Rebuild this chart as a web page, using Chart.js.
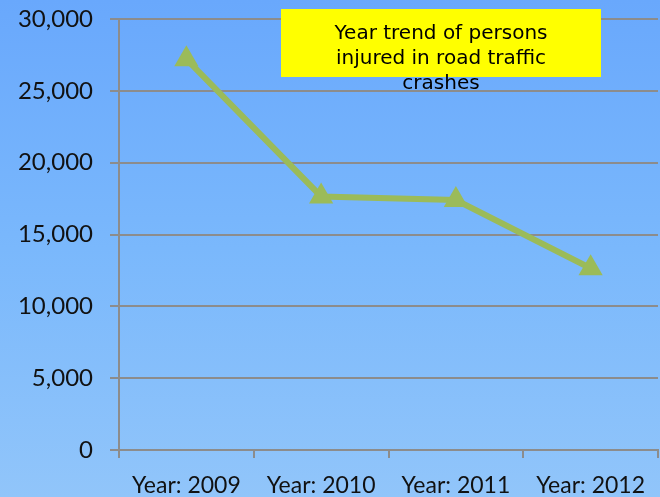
<!DOCTYPE html>
<html>
<head>
<meta charset="utf-8">
<script src="https://cdn.jsdelivr.net/npm/chart.js@4/dist/chart.umd.min.js"></script>
<style>
  html, body { margin: 0; padding: 0; }
  body { width: 660px; height: 497px; overflow: hidden;
    background: linear-gradient(to bottom, #69a8fc 0%, #7ab8fc 50%, #91c5fa 100%); }
  #wrap { width: 660px; height: 497px; position: relative; }
</style>
</head>
<body>
<div id="wrap"><canvas id="c" width="660" height="497"></canvas></div>
<script>
const categories = ["Year: 2009", "Year: 2010", "Year: 2011", "Year: 2012"];
const injured = [27200, 17650, 17400, 12650];
const titleLines = ["Year trend of persons", "injured in road traffic", "crashes"];
const yTicks = [0, 5000, 10000, 15000, 20000, 25000, 30000];

const gridGray = '#8c8c8c';

const titleBox = {
  id: 'titleBox',
  afterDraw(chart) {
    const ctx = chart.ctx;
    ctx.save();
    ctx.fillStyle = '#ffff00';
    ctx.fillRect(281, 9, 320, 68);
    ctx.fillStyle = '#000';
    ctx.font = '20px "DejaVu Sans"';
    ctx.textAlign = 'center';
    ctx.textBaseline = 'alphabetic';
    const baselines = [39, 64, 89];
    titleLines.forEach((t, i) => ctx.fillText(t, 441, baselines[i]));
    ctx.restore();
  }
};

new Chart(document.getElementById('c'), {
  type: 'line',
  data: {
    labels: categories,
    datasets: [{
      data: injured,
      borderColor: '#9bbb59',
      backgroundColor: '#9bbb59',
      borderWidth: 6,
      pointStyle: 'triangle',
      pointRadius: 14,
      pointHoverRadius: 14,
      pointBorderWidth: 0,
      tension: 0
    }]
  },
  options: {
    responsive: false,
    animation: false,
    devicePixelRatio: 1,
    layout: { autoPadding: false, padding: { top: 19, right: 2, left: 0, bottom: 0 } },
    plugins: { legend: { display: false }, tooltip: { enabled: false }, title: { display: false } },
    scales: {
      x: {
        offset: true,
        grid: { offset: true, drawOnChartArea: false, color: gridGray, lineWidth: 2, tickLength: 8 },
        border: { color: gridGray, width: 2 },
        ticks: { color: '#111', font: { family: 'Lato', size: 23 }, padding: 14, maxRotation: 0 },
        afterFit(s) { s.height = 47; s.paddingLeft = 0; s.paddingRight = 0; }
      },
      y: {
        min: 0, max: 30000,
        afterBuildTicks(s) { s.ticks = yTicks.map(v => ({ value: v })); },
        grid: { color: gridGray, lineWidth: 2, tickLength: 9 },
        border: { color: gridGray, width: 2 },
        ticks: { color: '#111', font: { family: 'Lato', size: 24 }, padding: 17,
          callback: v => v.toLocaleString('en-US') },
        afterFit(s) { s.width = 119; s.paddingTop = 0; s.paddingBottom = 0; }
      }
    }
  },
  plugins: [titleBox]
});
</script>
</body>
</html>
